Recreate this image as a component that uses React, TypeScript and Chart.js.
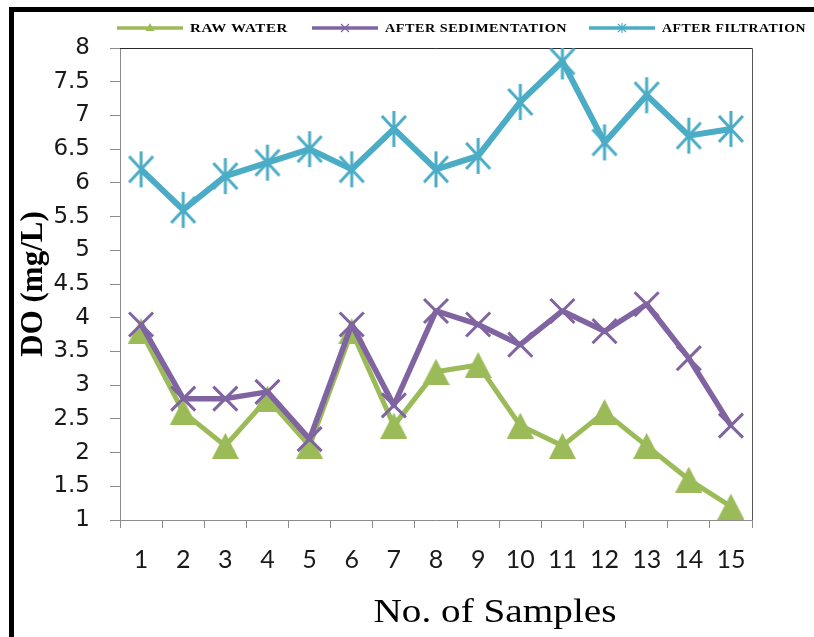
import React, { useEffect, useRef } from 'react';
import { Chart, registerables } from 'chart.js';

Chart.register(...registerables);

// ---- data ----
const samples = ['1', '2', '3', '4', '5', '6', '7', '8', '9', '10', '11', '12', '13', '14', '15'];
const rawWater = [3.8, 2.6, 2.1, 2.8, 2.1, 3.8, 2.4, 3.2, 3.3, 2.4, 2.1, 2.6, 2.1, 1.6, 1.2];
const afterSedimentation = [3.9, 2.8, 2.8, 2.9, 2.2, 3.9, 2.7, 4.1, 3.9, 3.6, 4.1, 3.8, 4.2, 3.4, 2.4];
const afterFiltration = [6.2, 5.6, 6.1, 6.3, 6.5, 6.2, 6.8, 6.2, 6.4, 7.2, 7.8, 6.6, 7.3, 6.7, 6.8];
const seriesNames = ['RAW WATER', 'AFTER SEDIMENTATION', 'AFTER FILTRATION'];
const yMin = 1;
const yMax = 8;
const yStep = 0.5;
const xTitle = 'No. of Samples';
const yTitle = 'DO (mg/L)';

const GREEN = '#9BBB59';
const PURPLE = '#8064A2';
const BLUE = '#4BACC6';

function makeAsterisk(color: string, w: number, h: number, xw: number, xh: number, lw: number) {
  const c = document.createElement('canvas');
  c.width = w;
  c.height = h;
  const g = c.getContext('2d')!;
  g.strokeStyle = color;
  g.lineWidth = lw;
  const cx = w / 2;
  const cy = h / 2;
  g.beginPath();
  g.moveTo(cx, 1);
  g.lineTo(cx, h - 1);
  g.moveTo(cx - xw / 2, cy - xh / 2);
  g.lineTo(cx + xw / 2, cy + xh / 2);
  g.moveTo(cx + xw / 2, cy - xh / 2);
  g.lineTo(cx - xw / 2, cy + xh / 2);
  g.stroke();
  return c;
}

function makeTriangle(color: string, w: number, h: number) {
  const c = document.createElement('canvas');
  c.width = w;
  c.height = h;
  const g = c.getContext('2d')!;
  g.fillStyle = color;
  g.beginPath();
  g.moveTo(w / 2, 0);
  g.lineTo(w, h);
  g.lineTo(0, h);
  g.closePath();
  g.fill();
  return c;
}

function drawLegendMarker(ctx: CanvasRenderingContext2D, kind: string, x: number, y: number, color: string) {
  ctx.save();
  ctx.fillStyle = color;
  ctx.strokeStyle = color;
  if (kind === 'triangle') {
    const r = 5;
    ctx.beginPath();
    ctx.moveTo(x, y - r);
    ctx.lineTo(x + r * 0.9, y + r * 0.6);
    ctx.lineTo(x - r * 0.9, y + r * 0.6);
    ctx.closePath();
    ctx.fill();
  } else if (kind === 'cross') {
    const r = 4;
    ctx.lineWidth = 1.2;
    ctx.beginPath();
    ctx.moveTo(x - r, y - r);
    ctx.lineTo(x + r, y + r);
    ctx.moveTo(x + r, y - r);
    ctx.lineTo(x - r, y + r);
    ctx.stroke();
  } else {
    const r = 4;
    ctx.lineWidth = 1.2;
    ctx.beginPath();
    ctx.moveTo(x - r, y - r);
    ctx.lineTo(x + r, y + r);
    ctx.moveTo(x + r, y - r);
    ctx.lineTo(x - r, y + r);
    ctx.moveTo(x, y - r - 1);
    ctx.lineTo(x, y + r + 1);
    ctx.stroke();
  }
  ctx.restore();
}

const framePlugin = {
  id: 'frame',
  beforeDraw(chart: any) {
    const ctx: CanvasRenderingContext2D = chart.ctx;
    ctx.save();
    ctx.fillStyle = '#ffffff';
    ctx.fillRect(0, 0, chart.width, chart.height);
    ctx.fillStyle = '#000000';
    ctx.fillRect(9, 7, 5, chart.height - 7);
    ctx.fillRect(9, 7, chart.width - 9, 5);
    ctx.restore();
  },
  beforeDatasetsDraw(chart: any) {
    const ctx: CanvasRenderingContext2D = chart.ctx;
    const a = chart.chartArea;
    ctx.save();
    ctx.lineWidth = 1;
    ctx.strokeStyle = '#2a2a2a';
    ctx.beginPath();
    ctx.moveTo(a.left, Math.round(a.top) + 0.5);
    ctx.lineTo(Math.round(a.right) + 0.5, Math.round(a.top) + 0.5);
    ctx.stroke();
    ctx.strokeStyle = '#555555';
    ctx.beginPath();
    ctx.moveTo(Math.round(a.right) + 0.5, Math.round(a.top) + 0.5);
    ctx.lineTo(Math.round(a.right) + 0.5, a.bottom);
    ctx.stroke();
    ctx.restore();
  },
  afterDraw(chart: any) {
    const ctx: CanvasRenderingContext2D = chart.ctx;
    const items = [
      { x: 117, color: GREEN, kind: 'triangle', text: seriesNames[0], w: 98 },
      { x: 312, color: PURPLE, kind: 'cross', text: seriesNames[1], w: 182 },
      { x: 589, color: BLUE, kind: 'star', text: seriesNames[2], w: 144 },
    ];
    const y = 28;
    const len = 66;
    ctx.save();
    for (const it of items) {
      ctx.strokeStyle = it.color;
      ctx.lineWidth = 3.5;
      ctx.lineCap = 'butt';
      ctx.beginPath();
      ctx.moveTo(it.x, y);
      ctx.lineTo(it.x + len, y);
      ctx.stroke();
      drawLegendMarker(ctx, it.kind, it.x + len / 2, y, it.color);
      ctx.save();
      ctx.fillStyle = '#000';
      ctx.font = 'bold 13.5px "Liberation Serif", serif';
      (ctx as any).letterSpacing = '0.5px';
      ctx.textBaseline = 'middle';
      ctx.textAlign = 'left';
      const tw = ctx.measureText(it.text).width;
      ctx.translate(it.x + len + 7, y + 1);
      ctx.scale(it.w / tw, 1);
      ctx.fillText(it.text, 0, 0);
      ctx.restore();
    }
    ctx.restore();

    // x-axis title (offset to the right as in the reference)
    ctx.save();
    ctx.font = '33px "Liberation Serif", "Times New Roman", serif';
    (ctx as any).letterSpacing = '0px';
    ctx.fillStyle = '#000';
    ctx.textBaseline = 'alphabetic';
    ctx.textAlign = 'center';
    const w = ctx.measureText(xTitle).width;
    const sx = 243 / w;
    ctx.translate(495, 622);
    ctx.scale(sx, 1);
    ctx.fillText(xTitle, 0, 0);
    ctx.restore();
  },
};

export default function App() {
  const ref = useRef<HTMLCanvasElement>(null);

  useEffect(() => {
    const canvas = ref.current!;
    const star = makeAsterisk(BLUE, 30, 38, 24, 26, 3);
    const tri = makeTriangle(GREEN, 27, 26);
    const chart = new Chart(canvas, {
      type: 'line',
      data: {
        labels: samples,
        datasets: [
          {
            label: seriesNames[0],
            data: rawWater,
            borderColor: GREEN,
            backgroundColor: GREEN,
            borderWidth: 5,
            pointStyle: tri as any,
            pointRadius: 13,
            tension: 0,
            borderJoinStyle: 'round',
            order: 1,
          },
          {
            label: seriesNames[1],
            data: afterSedimentation,
            borderColor: PURPLE,
            backgroundColor: PURPLE,
            borderWidth: 5.5,
            pointStyle: 'crossRot',
            pointRadius: 17,
            pointBorderWidth: 3,
            pointBorderColor: PURPLE,
            tension: 0,
            borderJoinStyle: 'round',
            order: 0,
          },
          {
            label: seriesNames[2],
            data: afterFiltration,
            borderColor: BLUE,
            backgroundColor: BLUE,
            borderWidth: 6,
            pointStyle: star as any,
            pointRadius: 17,
            tension: 0,
            borderJoinStyle: 'round',
            order: 2,
          },
        ],
      },
      options: {
        responsive: false,
        animation: false,
        devicePixelRatio: 1,
        layout: { padding: { left: 0, top: 48, right: 62, bottom: 0 } },
        plugins: {
          legend: { display: false },
          tooltip: { enabled: false },
        },
        scales: {
          x: {
            type: 'category',
            offset: true,
            grid: {
              offset: true,
              drawOnChartArea: false,
              drawTicks: true,
              tickLength: 8,
              color: '#8c8c8c',
            },
            border: { display: true, color: '#8c8c8c', width: 1 },
            ticks: {
              autoSkip: false,
              maxRotation: 0,
              padding: 17,
              color: '#1a1a1a',
              font: { family: 'Lato, "Open Sans", sans-serif', size: 25 },
            },
            title: { display: false },
            afterFit: (scale: any) => {
              scale.height = 117;
            },
          },
          y: {
            type: 'linear',
            min: yMin,
            max: yMax,
            grid: {
              drawOnChartArea: false,
              drawTicks: true,
              tickLength: 10,
              color: '#8c8c8c',
            },
            border: { display: true, color: '#8c8c8c', width: 1 },
            ticks: {
              stepSize: yStep,
              autoSkip: false,
              padding: 20,
              color: '#1a1a1a',
              font: { family: '"DejaVu Sans", sans-serif', size: 23 },
              callback: (v: any) => String(Number(v)),
            },
            title: {
              display: true,
              text: yTitle,
              color: '#000',
              font: { family: '"Liberation Serif", "Times New Roman", serif', size: 31, weight: 'bold' },
              padding: { top: 15, bottom: 0 },
            },
            afterFit: (scale: any) => {
              scale.width = 120;
            },
          },
        },
      },
      plugins: [framePlugin],
    } as any);
    return () => chart.destroy();
  }, []);

  return (
    <div style={{ position: 'fixed', left: 0, top: 0, width: 814, height: 637, background: '#fff' }}>
      <canvas ref={ref} width={814} height={637} style={{ display: 'block', width: 814, height: 637 }} />
    </div>
  );
}
